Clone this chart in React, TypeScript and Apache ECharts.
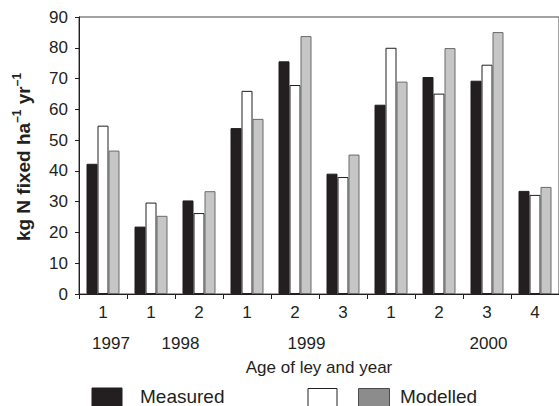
import React, { useEffect, useRef } from "react";
import * as echarts from "echarts";

const categories = ["1", "1", "2", "1", "2", "3", "1", "2", "3", "4"];
const measured = [42.3, 21.9, 30.4, 53.9, 75.6, 39.1, 61.5, 70.5, 69.3, 33.5];
const whiteSeries = [54.7, 29.7, 26.3, 66.0, 67.9, 38.0, 80.0, 65.1, 74.5, 32.2];
const modelled = [46.6, 25.4, 33.4, 56.9, 83.8, 45.3, 69.0, 79.9, 85.1, 34.8];
const years = ["1997", "1998", "1999", "2000"];
const yearX = [111, 180.5, 306.5, 488.5];

const FONT = "Liberation Sans, Arial, sans-serif";
const INK = "#231f20";

export default function App() {
  const ref = useRef<HTMLDivElement>(null);
  useEffect(() => {
    document.body.style.margin = "0";
    const chart = echarts.init(ref.current!, null, { renderer: "svg" });
    const yearTexts = years.map((y, i) => ({
      type: "text",
      x: yearX[i],
      y: 343,
      style: { text: y, font: `17px ${FONT}`, fill: INK, align: "center", verticalAlign: "middle" },
    }));
    chart.setOption({
      animation: false,
      textStyle: { fontFamily: FONT },
      grid: { left: 79, right: -4.4, top: 17, bottom: 112, show: true, borderColor: "#444", borderWidth: 1 },
      xAxis: {
        type: "category",
        data: categories,
        axisLine: { lineStyle: { color: INK, width: 1 } },
        axisTick: { show: true, length: 5, lineStyle: { color: INK } },
        axisLabel: { color: INK, fontSize: 17, margin: 10, fontFamily: FONT },
        name: "Age of ley and year",
        nameLocation: "middle",
        nameGap: 65,
        nameTextStyle: { color: INK, fontSize: 17, fontFamily: FONT },
      },
      yAxis: {
        type: "value",
        min: 0,
        max: 90,
        interval: 10,
        splitLine: { show: false },
        axisLine: { show: true, lineStyle: { color: INK, width: 1 } },
        axisTick: { show: true, length: 4, lineStyle: { color: INK } },
        axisLabel: { color: INK, fontSize: 17, margin: 11, fontFamily: FONT },
      },
      series: [
        {
          name: "Measured",
          type: "bar",
          data: measured,
          barWidth: 11,
          barGap: "0%",
          itemStyle: { color: INK, borderColor: INK, borderWidth: 1 },
        },
        {
          name: " ",
          type: "bar",
          data: whiteSeries,
          barWidth: 11,
          barGap: "0%",
          itemStyle: { color: "#ffffff", borderColor: INK, borderWidth: 1 },
        },
        {
          name: "Modelled",
          type: "bar",
          data: modelled,
          barWidth: 11,
          barGap: "0%",
          itemStyle: { color: "#c6c6c6", borderColor: "#6a6a6a", borderWidth: 1 },
        },
      ],
      graphic: [
        {
          type: "text",
          x: 22,
          y: 157,
          rotation: Math.PI / 2,
          style: {
            text: "{m|kg N fixed ha}{s|–1}{m| yr}{s|–1}",
            align: "center",
            verticalAlign: "middle",
            fill: INK,
            rich: {
              m: { fontSize: 19, fontWeight: "bold", fontFamily: FONT, fill: INK, lineHeight: 22, verticalAlign: "bottom" },
              s: { fontSize: 12, fontWeight: "bold", fontFamily: FONT, fill: INK, lineHeight: 22, verticalAlign: "top" },
            },
          },
        },
        ...yearTexts,
        { type: "rect", shape: { x: 92, y: 388, width: 30, height: 20 }, style: { fill: INK, stroke: INK } },
        {
          type: "text",
          x: 140,
          y: 406,
          style: { text: "Measured", font: `19px ${FONT}`, fill: INK, align: "left", verticalAlign: "bottom" },
        },
        { type: "rect", shape: { x: 308, y: 388.5, width: 29, height: 20 }, style: { fill: "#ffffff", stroke: INK, lineWidth: 1 } },
        { type: "rect", shape: { x: 358.5, y: 388.5, width: 31, height: 20 }, style: { fill: "#8c8c8c", stroke: "#4a4a4a", lineWidth: 1 } },
        {
          type: "text",
          x: 400,
          y: 406,
          style: { text: "Modelled", font: `19px ${FONT}`, fill: INK, align: "left", verticalAlign: "bottom" },
        },
      ],
    });
    return () => chart.dispose();
  }, []);
  return <div ref={ref} style={{ width: 559, height: 406 }} />;
}
